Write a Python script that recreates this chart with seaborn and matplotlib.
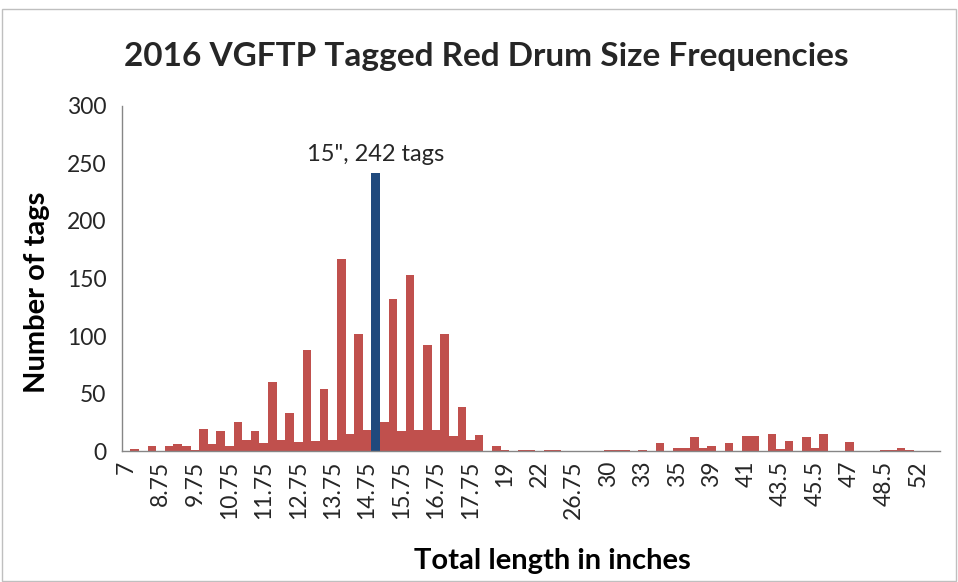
import matplotlib
matplotlib.use("Agg")
import matplotlib.pyplot as plt
import seaborn as sns
from matplotlib.patches import Rectangle

# size classes (inches) as they appear on the category axis
lengths = [
    7, 7.5, 8, 8.5, 8.75, 9, 9.25, 9.5, 9.75, 10, 10.25, 10.5, 10.75,
    11, 11.25, 11.5, 11.75, 12, 12.25, 12.5, 12.75, 13, 13.25, 13.5, 13.75,
    14, 14.25, 14.5, 14.75, 15, 15.25, 15.5, 15.75, 16, 16.25, 16.5, 16.75,
    17, 17.25, 17.5, 17.75, 18, 18.25, 18.5, 19, 19.5, 20, 21, 22,
    23, 24, 25, 26.75, 27, 28, 29, 30, 31, 31.5, 32, 33,
    33.5, 34, 34.5, 35, 36, 37, 38, 39, 39.5, 40, 40.5, 41,
    42, 42.5, 43, 43.5, 44, 44.5, 45, 45.5, 46, 46.5, 46.75, 47,
    47.5, 48, 48.25, 48.5, 49, 50, 51, 52, 53, 54,
]
# number of tags per size class
counts = [
    0, 2, 0, 4, 0, 4, 6, 4, 1, 19, 6, 17, 4,
    25, 10, 17, 7, 60, 10, 33, 8, 88, 9, 54, 10,
    167, 15, 102, 18, 242, 25, 132, 17, 153, 18, 92, 18,
    102, 13, 38, 10, 14, 0, 4, 1, 0, 1, 1, 0,
    1, 1, 0, 0, 0, 0, 0, 1, 1, 1, 0, 1,
    0, 7, 0, 3, 3, 12, 3, 4, 0, 7, 0, 13,
    13, 0, 15, 2, 9, 0, 12, 3, 15, 0, 0, 8,
    0, 0, 0, 1, 1, 3, 1, 0, 0, 0,
]
y_ticks = [0, 50, 100, 150, 200, 250, 300]
peak_length = 15

RED = "#C0504D"
BLUE = "#1F497D"
GREY = "#868686"

labels = [f"{v:g}" for v in lengths]
peak_idx = lengths.index(peak_length)
colors = [BLUE if v == peak_length else RED for v in lengths]

sns.set_style("white")
plt.rcParams["font.family"] = ["Lato", "DejaVu Sans"]

fig = plt.figure(figsize=(9.58, 5.82), dpi=100)
ax = fig.add_axes([0.127, 0.225, 0.854, 0.593])

sns.barplot(x=labels, y=counts, hue=labels, palette=colors, legend=False,
            width=1, saturation=1, linewidth=0, ax=ax)

ax.set_xlim(-0.5, len(labels) - 0.5)
ax.set_ylim(0, 300)
ax.set_yticks(y_ticks)
ax.set_yticklabels([str(t) for t in y_ticks], fontsize=16.5, color="#262626")
step = 4
ax.set_xticks(range(0, len(labels), step))
ax.set_xticklabels(labels[::step], rotation=90, fontsize=16.5, color="#262626")
ax.tick_params(axis="x", length=0, pad=7)
ax.tick_params(axis="y", length=7, width=1, color=GREY, direction="out", pad=4)

for side in ["top", "right"]:
    ax.spines[side].set_visible(False)
for side in ["left", "bottom"]:
    ax.spines[side].set_color(GREY)
    ax.spines[side].set_linewidth(1)

ax.set_xlabel("Total length in inches", fontsize=21, fontweight="bold",
              color="#000000")
ax.set_ylabel("Number of tags", fontsize=21, fontweight="bold",
              color="#000000")
ax.xaxis.set_label_coords(0.527, -0.28)
ax.yaxis.set_label_coords(-0.087, 0.46)

ax.text(peak_idx, counts[peak_idx] + 7, f'{peak_length}", {counts[peak_idx]} tags',
        ha="center", va="bottom", fontsize=17, color="#262626")

fig.text(0.508, 0.903, "2016 VGFTP Tagged Red Drum Size Frequencies",
         ha="center", va="center", fontsize=24, fontweight="bold")

fig.patches.append(Rectangle((0.002, 0.002), 0.996, 0.983, transform=fig.transFigure,
                             fill=False, edgecolor="#BFBFBF", linewidth=1))

fig.savefig("out.png", dpi=100)
